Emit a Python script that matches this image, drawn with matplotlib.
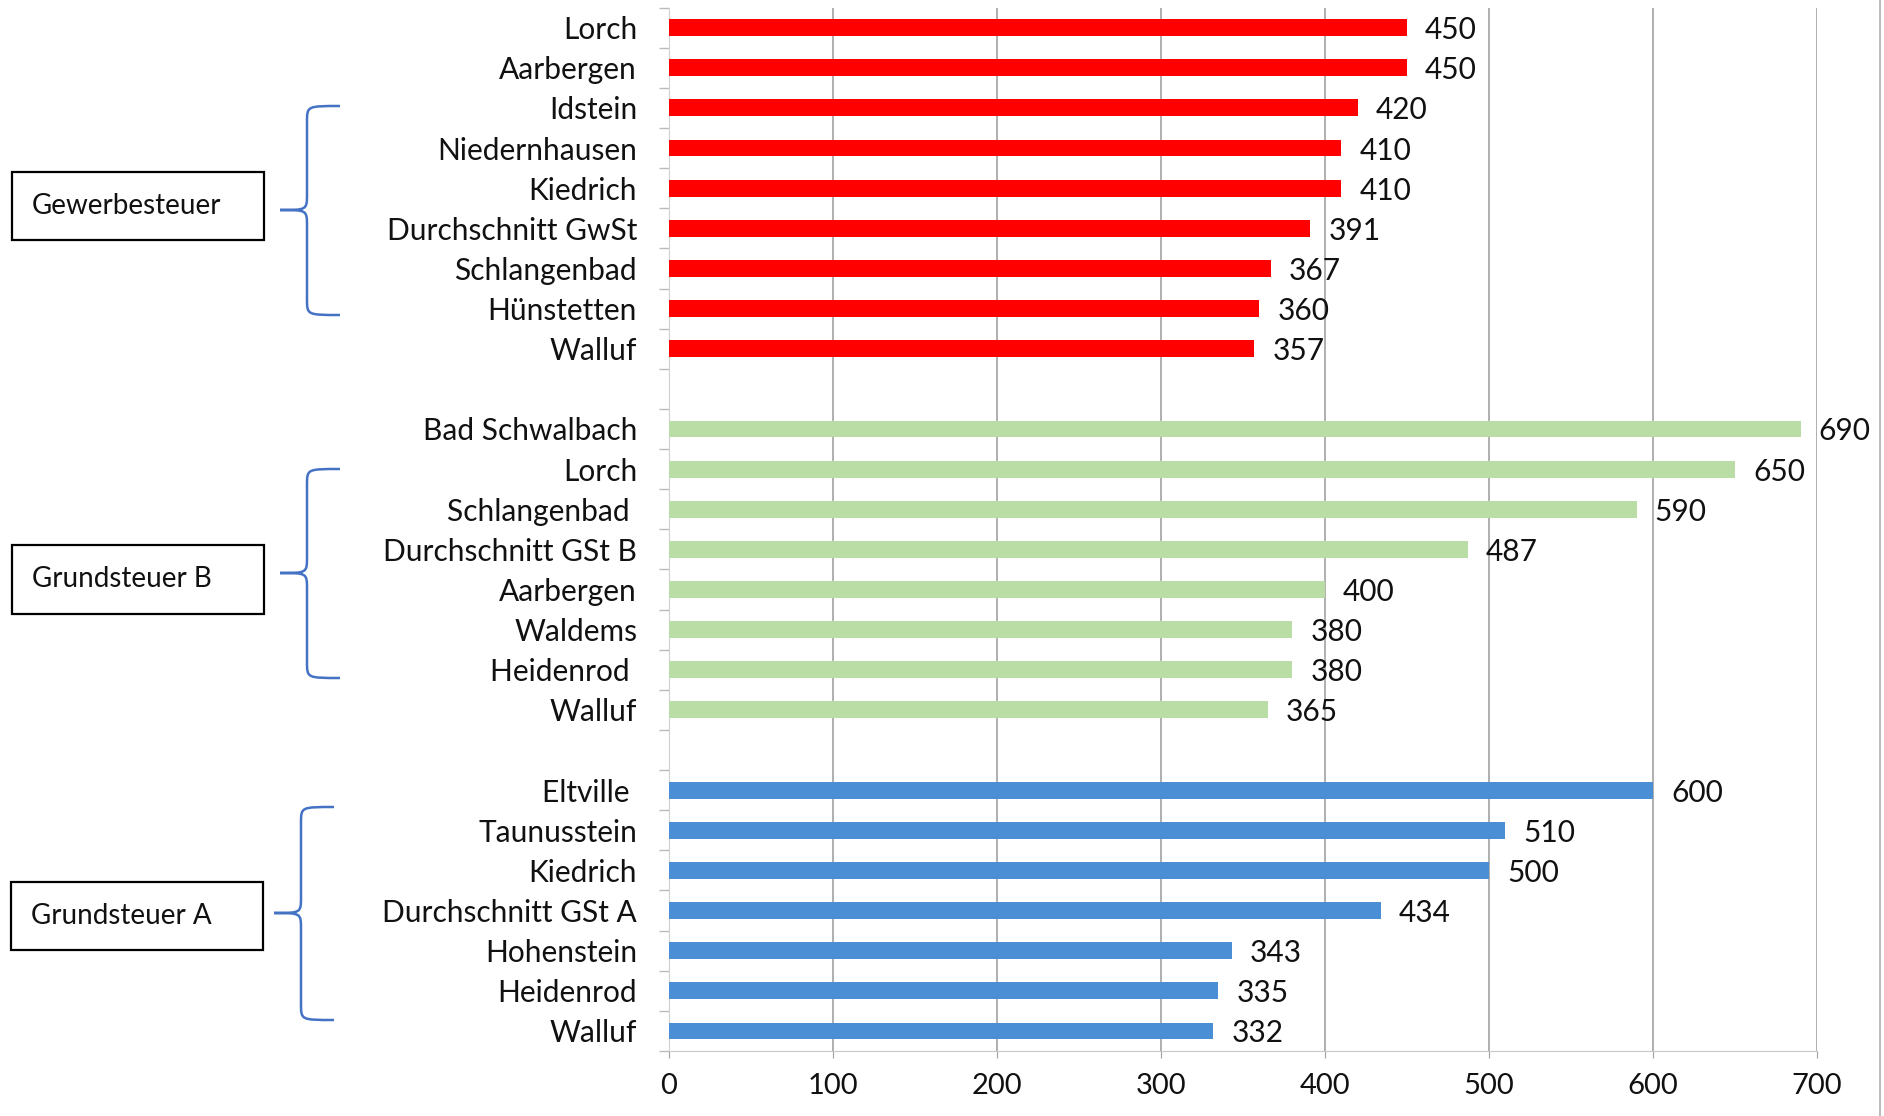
import matplotlib
matplotlib.use("Agg")
import matplotlib.pyplot as plt
from matplotlib.patches import Rectangle
from matplotlib.path import Path
from matplotlib.patches import PathPatch
from matplotlib.lines import Line2D
import numpy as np

plt.rcParams['font.family'] = ['Lato', 'DejaVu Sans']

# ---- data ----
gw_names = ["Lorch", "Aarbergen", "Idstein", "Niedernhausen", "Kiedrich",
            "Durchschnitt GwSt", "Schlangenbad", "Hünstetten", "Walluf"]
gw_vals = [450, 450, 420, 410, 410, 391, 367, 360, 357]

gsb_names = ["Bad Schwalbach", "Lorch", "Schlangenbad ", "Durchschnitt GSt B",
             "Aarbergen", "Waldems", "Heidenrod ", "Walluf"]
gsb_vals = [690, 650, 590, 487, 400, 380, 380, 365]

gsa_names = ["Eltville ", "Taunusstein", "Kiedrich", "Durchschnitt GSt A",
             "Hohenstein", "Heidenrod", "Walluf"]
gsa_vals = [600, 510, 500, 434, 343, 335, 332]

group_titles = ["Gewerbesteuer", "Grundsteuer B", "Grundsteuer A"]
x_ticks = [0, 100, 200, 300, 400, 500, 600, 700]

colors = ["#FF0000", "#BADDA6", "#4A8ED6"]

groups = [(gw_names, gw_vals), (gsb_names, gsb_vals), (gsa_names, gsa_vals)]

W, H = 1884, 1116
fig = plt.figure(figsize=(W / 100, H / 100), dpi=100)
ax = fig.add_axes([669 / W, 1 - 1051 / H, (1817 - 669) / W, (1051 - 7.6) / H])

labels = []
pos = []
y = 0
for gi, (names, vals) in enumerate(groups):
    for n, v in zip(names, vals):
        ax.barh(y, v, height=0.42, color=colors[gi], zorder=3)
        ax.text(v + 11, y, str(v), va='center_baseline', ha='left', fontsize=21.5,
                color='#111111', zorder=4)
        labels.append(n)
        pos.append(y)
        y += 1
    y += 1  # gap slot

n_slots = y - 1
ax.set_ylim(n_slots - 0.5, -0.5)
ax.set_xlim(0, 700)
ax.set_yticks(pos)
ax.set_yticklabels(labels, fontsize=21.5, color='#111111')
ax.set_yticks(np.arange(-0.5, n_slots, 1.0), minor=True)
ax.tick_params(axis='y', which='major', length=0, pad=23)
ax.tick_params(axis='y', which='minor', length=7, color='#BBBBBB', width=1)
ax.set_xticks(x_ticks)
ax.set_xticklabels([str(t) for t in x_ticks], fontsize=21, color='#111111')
ax.tick_params(axis='x', length=5, color='#A0A0A0', pad=11)
ax.grid(axis='x', color='#9A9A9A', linewidth=1.1, zorder=0)
for s in ['top', 'right']:
    ax.spines[s].set_visible(False)
ax.spines['left'].set_color('#D0D0D0')
ax.spines['bottom'].set_color('#C8C8C8')

# ---- group boxes and braces (figure pixel coords) ----
boxes = [(12, 172, 264, 240), (12, 545, 264, 614), (11, 882, 263, 950)]
braces = [(280, 340, 106, 315, 210), (280, 340, 469, 678, 573), (274, 334, 807, 1020, 913)]


def fx(px):
    return px / W


def fy(py):
    return 1 - py / H


for (x0, y0, x1, y1), title in zip(boxes, group_titles):
    fig.patches.append(Rectangle((fx(x0), fy(y1)), fx(x1 - x0), (y1 - y0) / H,
                                 transform=fig.transFigure, fill=False,
                                 edgecolor='black', linewidth=1.6))
    fig.text(fx(x0 + 20), fy((y0 + y1) / 2), title, fontsize=20,
             va='center', ha='left', color='#111111')

for (xt, xe, yt, yb, ym) in braces:
    xm = xt + (xe - xt) * 0.45
    r = 8
    verts = [
        (xe, yt), (xm, yt), (xm, yt), (xm, yt + r * 2),
        (xm, ym - r * 2),
        (xm, ym), (xm, ym), (xt, ym),
        (xm, ym), (xm, ym), (xm, ym + r * 2),
        (xm, yb - r * 2),
        (xm, yb), (xm, yb), (xe, yb),
    ]
    codes = [Path.MOVETO, Path.CURVE4, Path.CURVE4, Path.CURVE4,
             Path.LINETO,
             Path.CURVE4, Path.CURVE4, Path.CURVE4,
             Path.CURVE4, Path.CURVE4, Path.CURVE4,
             Path.LINETO,
             Path.CURVE4, Path.CURVE4, Path.CURVE4]
    verts_f = [(fx(a), fy(b)) for a, b in verts]
    fig.patches.append(PathPatch(Path(verts_f, codes), transform=fig.transFigure,
                                 fill=False, edgecolor='#4472C4', linewidth=1.8))

# thin frame line at the right edge of the screenshot
fig.lines.append(Line2D([fx(1880), fx(1880)], [0, 1], transform=fig.transFigure,
                        color='#B0B0B0', linewidth=1.2))

fig.savefig("out.png", dpi=100, facecolor='white')
